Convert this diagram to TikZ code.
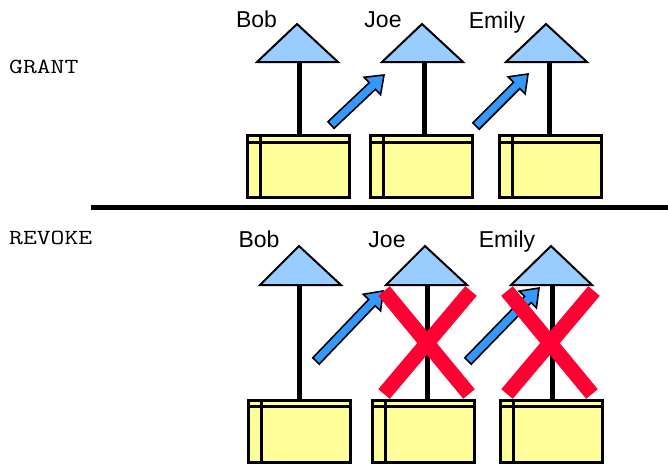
\documentclass[tikz,border=0pt]{standalone}
\usepackage{fontspec}
\setmainfont{Liberation Sans}
\usetikzlibrary{calc}
\definecolor{trifill}{HTML}{99CCFF}
\definecolor{boxfill}{HTML}{FFFF99}
\definecolor{arrfill}{HTML}{3399FF}
\definecolor{xred}{HTML}{FF0033}
\tikzset{
  userbox/.style={draw=black, fill=boxfill, line width=3pt, minimum width=102pt, minimum height=62pt, inner sep=0pt, outer sep=0pt},
  boxline/.style={draw=black, line width=3pt},
  tristyle/.style={draw=black, fill=trifill, line width=2pt, line join=miter},
  stick/.style={draw=black, line width=5pt},
  arrowstyle/.style={draw=black, fill=arrfill, line width=1.6pt, line join=miter},
  crossline/.style={draw=xred, line width=15pt, line cap=butt},
  namelabel/.style={font=\fontsize{23}{27}\selectfont, anchor=base, inner sep=0pt},
  sectlabel/.style={font=\ttfamily\fontsize{21.5}{26}\selectfont, anchor=base west, inner sep=0pt},
}
\newcommand\blockarrow[2]{%
  \draw[arrowstyle] let \p1=($(#2)-(#1)$), \n1={atan2(\y1,\x1)}, \n2={veclen(\x1,\y1)} in
   [shift={(#1)}, rotate=\n1]
   (0pt,-4.5pt) -- ({\n2*1pt-16pt},-4.5pt) -- ({\n2*1pt-16pt},-12pt) -- ({\n2*1pt},0pt)
   -- ({\n2*1pt-16pt},12pt) -- ({\n2*1pt-16pt},4.5pt) -- (0pt,4.5pt) -- cycle;}
\newcommand\userbox[2]{% name, center
  \node[userbox] (#1) at (#2) {};
  \draw[boxline] ($(#1.north west)+(0,6.5)$) -- ($(#1.north east)+(0,6.5)$);
  \draw[boxline] ($(#1.north west)+(12.5,0)$) -- ($(#1.south west)+(12.5,0)$);}
\newcommand\usertri[4]{% name, apex, base left, base right
  \coordinate (#1apex) at (#2);
  \coordinate (#1bl) at (#3);
  \coordinate (#1br) at (#4);
  \draw[tristyle] (#1apex) -- (#1br) -- (#1bl) -- cycle;}
\begin{document}
\begin{tikzpicture}[x=1pt,y=-1pt]
\useasboundingbox (0,0) rectangle (668,466);
% section labels
\node[sectlabel] (grant) at (9,73) {\scalebox{1.25}[1]{GRANT}};
\node[sectlabel] (revoke) at (9,244) {\scalebox{1.25}[1]{REVOKE}};
% divider
\coordinate (divL) at (91,207.3);
\coordinate (divR) at (668,207.3);
\draw[line width=5.3pt] (divL) -- (divR);
% ---------- GRANT row ----------
\node[namelabel] (bobT) at (256.5,27.5) {Bob};
\node[namelabel] (joeT) at (383,27.5) {Joe};
\node[namelabel] (emilyT) at (497,28) {Emily};
\userbox{bobGbox}{298.5,166.8}
\userbox{joeGbox}{421.5,166.8}
\userbox{emilyGbox}{550.5,166.8}
\coordinate (bobGstk) at (299,62);
\coordinate (joeGstk) at (424,62);
\coordinate (emilyGstk) at (549,62);
\draw[stick] (bobGstk) -- (bobGstk |- bobGbox.north);
\draw[stick] (joeGstk) -- (joeGstk |- joeGbox.north);
\draw[stick] (emilyGstk) -- (emilyGstk |- emilyGbox.north);
\usertri{bobG}{297,24}{257,62}{338,62}
\usertri{joeG}{422,24}{382,62}{463,62}
\usertri{emilyG}{546,24}{506,62}{587,62}
\coordinate (a1s) at (331,125);
\coordinate (a1e) at (384,75);
\coordinate (a2s) at (476,126);
\coordinate (a2e) at (528,74);
\blockarrow{a1s}{a1e}
\blockarrow{a2s}{a2e}
% ---------- REVOKE row ----------
\node[namelabel] (bobR) at (259,247) {Bob};
\node[namelabel] (joeR) at (387,247) {Joe};
\node[namelabel] (emilyR) at (507,247) {Emily};
\userbox{bobRbox}{299.5,431}
\userbox{joeRbox}{423.5,431}
\userbox{emilyRbox}{551.5,431}
\coordinate (bobRstk) at (299,285);
\coordinate (joeRstk) at (427,285);
\coordinate (emilyRstk) at (552,285);
\draw[stick] (bobRstk) -- (bobRstk |- bobRbox.north);
\draw[stick] (joeRstk) -- (joeRstk |- joeRbox.north);
\draw[stick] (emilyRstk) -- (emilyRstk |- emilyRbox.north);
\usertri{bobR}{299,246}{260,285}{341,285}
\usertri{joeR}{425,246}{386,285}{467,285}
\usertri{emilyR}{551,246}{511,285}{592,285}
\coordinate (a3s) at (316,361);
\coordinate (a3e) at (383,291);
\coordinate (a4s) at (468,361);
\coordinate (a4e) at (539,288);
\blockarrow{a3s}{a3e}
\blockarrow{a4s}{a4e}
% red crosses
\coordinate (x1a) at (384,291);
\coordinate (x1b) at (469,394);
\coordinate (x1c) at (471,291);
\coordinate (x1d) at (384,394);
\draw[crossline] (x1a) -- (x1b);
\draw[crossline] (x1c) -- (x1d);
\coordinate (x2a) at (507,291);
\coordinate (x2b) at (592,394);
\coordinate (x2c) at (594,291);
\coordinate (x2d) at (507,394);
\draw[crossline] (x2a) -- (x2b);
\draw[crossline] (x2c) -- (x2d);
\end{tikzpicture}
\end{document}
